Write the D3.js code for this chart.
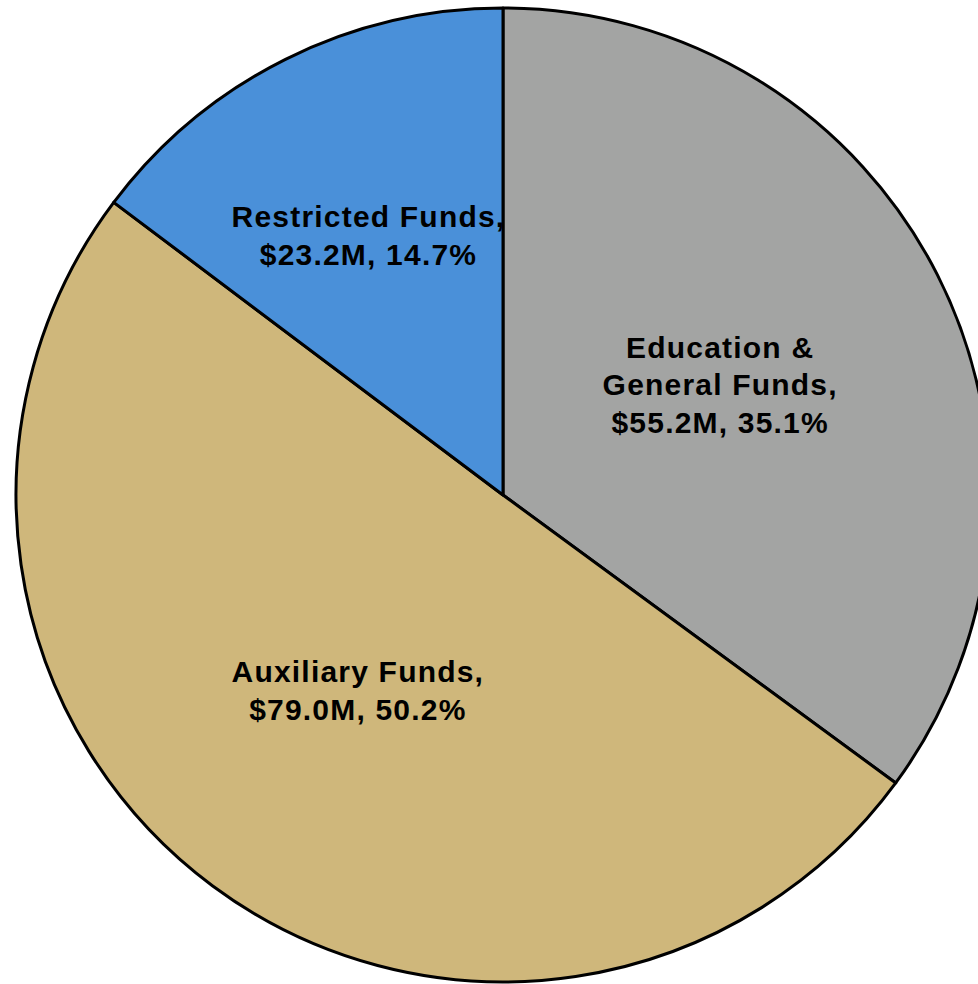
<!DOCTYPE html>
<html>
<head>
<meta charset="utf-8">
<script src="https://cdn.jsdelivr.net/npm/d3@7"></script>
<style>
  html, body { margin: 0; padding: 0; background: #ffffff; overflow: hidden; }
  svg { display: block; }
</style>
</head>
<body>
<svg id="chart" width="978" height="984"></svg>
<script>
// Data
const categories = ["Education & General Funds", "Auxiliary Funds", "Restricted Funds"];
const values = [55.2, 79.0, 23.2];           // $M
const percents = ["35.1%", "50.2%", "14.7%"];
const labelLines = [
  ["Education &", "General Funds,", "$55.2M, 35.1%"],
  ["Auxiliary Funds,", "$79.0M, 50.2%"],
  ["Restricted Funds,", "$23.2M, 14.7%"]
];
const colors = ["#a3a4a3", "#cfb77b", "#4a90d9"];

const svg = d3.select("#chart");
const cx = 503, cy = 495, r = 487;

const g = svg.append("g").attr("transform", `translate(${cx},${cy})`);

const pie = d3.pie().sort(null).value(d => d.value);
const data = categories.map((c, i) => ({ name: c, value: values[i], lines: labelLines[i], color: colors[i] }));
const arcs = pie(data);

const arc = d3.arc().innerRadius(0).outerRadius(r);

g.selectAll("path.slice")
  .data(arcs)
  .enter().append("path")
  .attr("class", "slice")
  .attr("d", arc)
  .attr("fill", d => d.data.color)
  .attr("stroke", "#000")
  .attr("stroke-width", 3)
  .attr("stroke-linejoin", "round");

const lineH = 37.5;
const labels = g.selectAll("text.lbl")
  .data(arcs)
  .enter().append("text")
  .attr("class", "lbl")
  .attr("text-anchor", "middle")
  .attr("font-family", "Liberation Sans, Arial, Helvetica, sans-serif")
  .attr("font-weight", "bold")
  .attr("font-size", 30)
  .attr("letter-spacing", "1.2px")
  .attr("fill", "#000")
  .each(function(d) {
    const frac = (d.endAngle - d.startAngle) / (2 * Math.PI);
    const lr = frac < 0.2 ? r * 0.6 : r * 0.5;
    const c = d3.arc().innerRadius(lr).outerRadius(lr).centroid(d);
    const n = d.data.lines.length;
    const t = d3.select(this);
    d.data.lines.forEach((ln, i) => {
      t.append("tspan")
        .attr("x", c[0] - (frac < 0.2 ? 4 : 0))
        .attr("y", c[1] + (i - (n - 1) / 2) * lineH + (frac < 0.2 ? 2 : 0))
        .attr("dy", "0.35em")
        .text(ln);
    });
  });
</script>
</body>
</html>
